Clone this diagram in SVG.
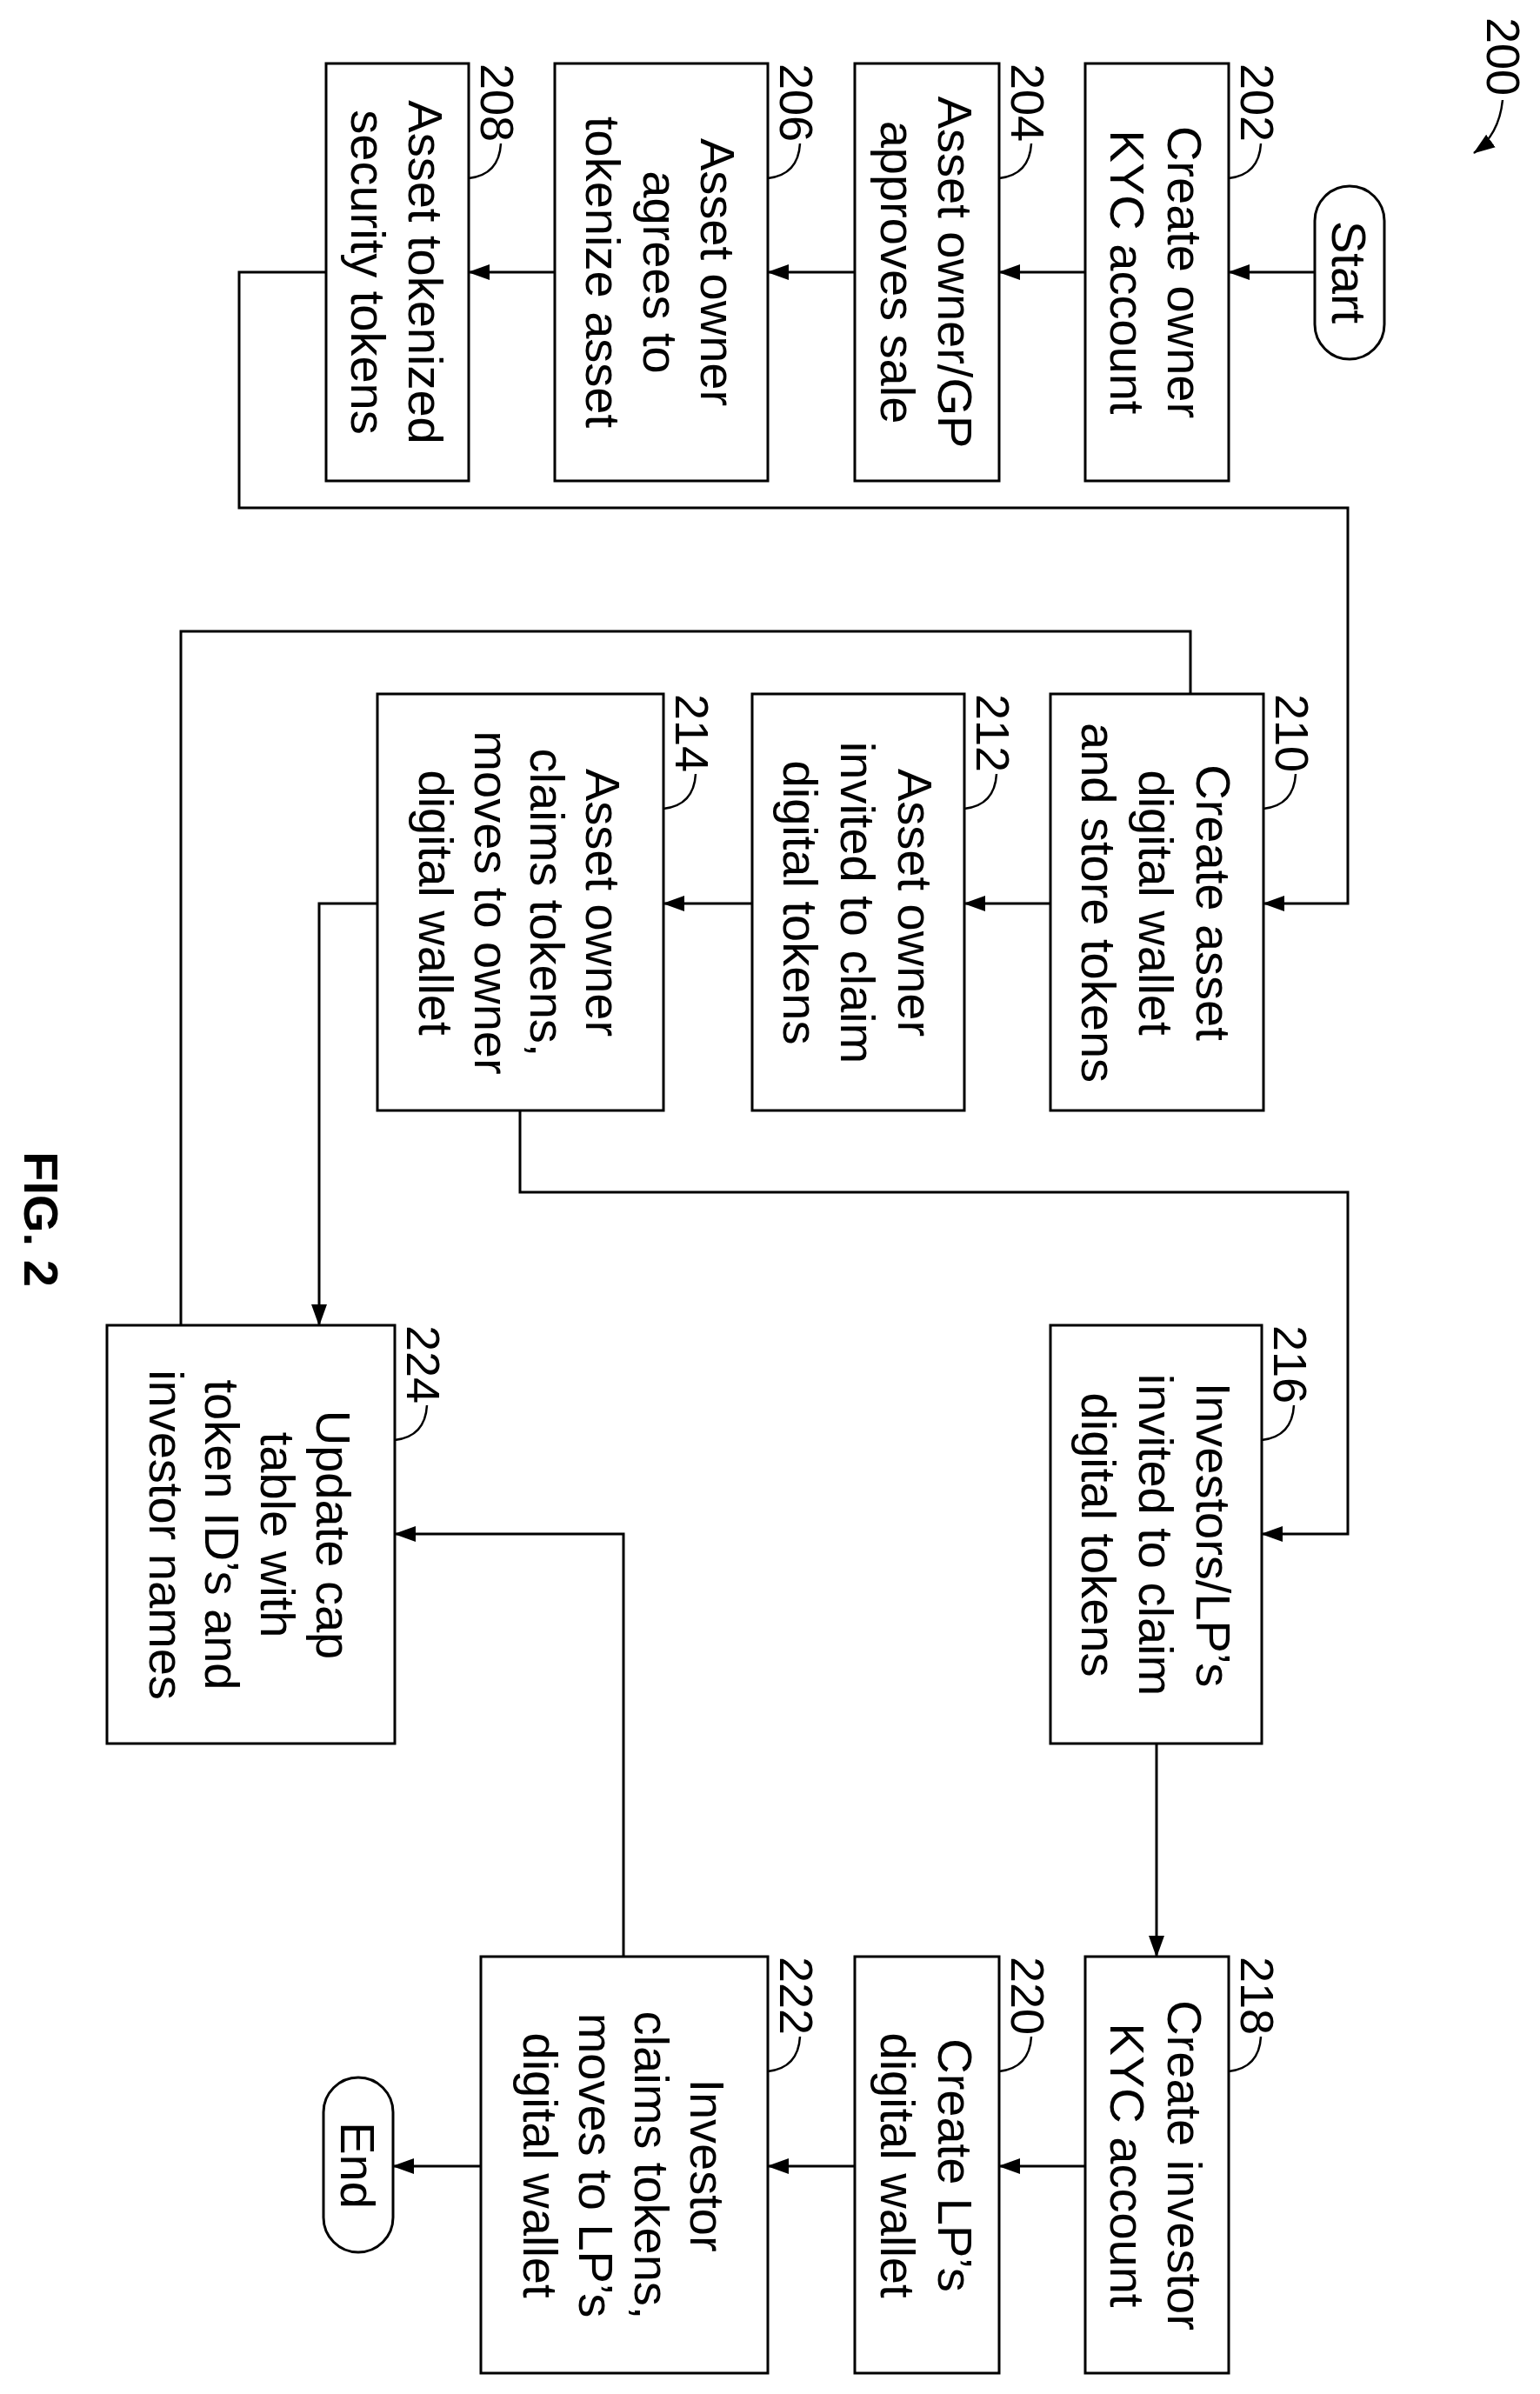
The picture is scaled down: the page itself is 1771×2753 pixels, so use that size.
<svg xmlns="http://www.w3.org/2000/svg" width="1771" height="2753" viewBox="0 0 1771 2753">
<style>
.b{fill:#fff;stroke:#000;stroke-width:3}
.t{font-family:"Liberation Sans",Arial,sans-serif;font-size:56px;text-anchor:middle;fill:#000}
.r{font-family:"Liberation Sans",Arial,sans-serif;font-size:54px;fill:#000}
.c{fill:none;stroke:#000;stroke-width:3}
.l{fill:none;stroke:#000;stroke-width:2.5}
</style>
<defs>
<marker id="a" markerWidth="26" markerHeight="20" refX="24" refY="10" orient="auto" markerUnits="userSpaceOnUse"><path d="M0,1 L25,10 L0,19 Z" fill="#000"/></marker>
</defs>
<g id="connectors">
<path class="c" d="M1512,313 H1413" marker-end="url(#a)"/>
<path class="c" d="M1248,313 H1149" marker-end="url(#a)"/>
<path class="c" d="M983,313 H883" marker-end="url(#a)"/>
<path class="c" d="M638,313 H539" marker-end="url(#a)"/>
<path class="c" d="M375,313 H275 V584 H1550 V1039 H1453" marker-end="url(#a)"/>
<path class="c" d="M1208,1039 H1109" marker-end="url(#a)"/>
<path class="c" d="M865,1039 H763" marker-end="url(#a)"/>
<path class="c" d="M434,1039 H367 V1524" marker-end="url(#a)"/>
<path class="c" d="M1369,798 V726 H208 V1524"/>
<path class="c" d="M598,1277 V1371 H1550 V1764 H1451" marker-end="url(#a)"/>
<path class="c" d="M1330,2005 V2250" marker-end="url(#a)"/>
<path class="c" d="M1248,2491 H1149" marker-end="url(#a)"/>
<path class="c" d="M983,2491 H883" marker-end="url(#a)"/>
<path class="c" d="M553,2491 H452" marker-end="url(#a)"/>
<path class="c" d="M717,2250 V1764 H454" marker-end="url(#a)"/>
</g>
<g id="label200">
<text class="r" transform="translate(1710,20) rotate(90)" x="0" y="0">200</text>
<path class="l" d="M1728,115 Q1724,155 1695,176" marker-end="url(#a)"/>
</g>
<g id="start"><rect class="b" x="1512" y="214" width="80" height="199" rx="40"/><text class="t" transform="translate(1552,313) rotate(90)" y="20">Start</text></g>
<g id="end"><rect class="b" x="372" y="2389" width="80" height="201" rx="40"/><text class="t" transform="translate(412,2490) rotate(90)" y="20">End</text></g>

<g id="n202"><rect class="b" x="1248" y="73" width="165" height="480"/>
<text class="t" transform="translate(1330,313) rotate(90)"><tspan x="0" y="-13">Create owner</tspan><tspan x="0" y="53">KYC account</tspan></text>
<text class="r" transform="translate(1427,73) rotate(90)" y="0">202</text><path class="l" d="M1450,165 Q1448,201 1413,205"/></g>

<g id="n204"><rect class="b" x="983" y="73" width="166" height="480"/>
<text class="t" transform="translate(1066,313) rotate(90)"><tspan x="0" y="-13">Asset owner/GP</tspan><tspan x="0" y="53">approves sale</tspan></text>
<text class="r" transform="translate(1163,73) rotate(90)" y="0">204</text><path class="l" d="M1186,165 Q1184,201 1149,205"/></g>

<g id="n206"><rect class="b" x="638" y="73" width="245" height="480"/>
<text class="t" transform="translate(760,313) rotate(90)"><tspan x="0" y="-46">Asset owner</tspan><tspan x="0" y="20">agrees to</tspan><tspan x="0" y="86">tokenize asset</tspan></text>
<text class="r" transform="translate(897,73) rotate(90)" y="0">206</text><path class="l" d="M920,165 Q918,201 883,205"/></g>

<g id="n208"><rect class="b" x="375" y="73" width="164" height="480"/>
<text class="t" transform="translate(457,313) rotate(90)"><tspan x="0" y="-13">Asset tokenized</tspan><tspan x="0" y="53">security tokens</tspan></text>
<text class="r" transform="translate(553,73) rotate(90)" y="0">208</text><path class="l" d="M576,165 Q574,201 539,205"/></g>

<g id="n210"><rect class="b" x="1208" y="798" width="245" height="479"/>
<text class="t" transform="translate(1330,1038) rotate(90)"><tspan x="0" y="-46">Create asset</tspan><tspan x="0" y="20">digital wallet</tspan><tspan x="0" y="86">and store tokens</tspan></text>
<text class="r" transform="translate(1467,798) rotate(90)" y="0">210</text><path class="l" d="M1490,890 Q1488,926 1453,930"/></g>

<g id="n212"><rect class="b" x="865" y="798" width="244" height="479"/>
<text class="t" transform="translate(987,1038) rotate(90)"><tspan x="0" y="-46">Asset owner</tspan><tspan x="0" y="20">invited to claim</tspan><tspan x="0" y="86">digital tokens</tspan></text>
<text class="r" transform="translate(1123,798) rotate(90)" y="0">212</text><path class="l" d="M1146,890 Q1144,926 1109,930"/></g>

<g id="n214"><rect class="b" x="434" y="798" width="329" height="479"/>
<text class="t" transform="translate(598,1038) rotate(90)"><tspan x="0" y="-76">Asset owner</tspan><tspan x="0" y="-12">claims tokens,</tspan><tspan x="0" y="52">moves to owner</tspan><tspan x="0" y="116">digital wallet</tspan></text>
<text class="r" transform="translate(777,798) rotate(90)" y="0">214</text><path class="l" d="M800,890 Q798,926 763,930"/></g>

<g id="n216"><rect class="b" x="1208" y="1524" width="243" height="481"/>
<text class="t" transform="translate(1330,1765) rotate(90)"><tspan x="0" y="-46">Investors/LP’s</tspan><tspan x="0" y="20">invited to claim</tspan><tspan x="0" y="86">digital tokens</tspan></text>
<text class="r" transform="translate(1465,1524) rotate(90)" y="0">216</text><path class="l" d="M1488,1616 Q1486,1652 1451,1656"/></g>

<g id="n224"><rect class="b" x="123" y="1524" width="331" height="481"/>
<text class="t" transform="translate(288,1765) rotate(90)"><tspan x="0" y="-76">Update cap</tspan><tspan x="0" y="-12">table with</tspan><tspan x="0" y="52">token ID’s and</tspan><tspan x="0" y="116">investor names</tspan></text>
<text class="r" transform="translate(468,1524) rotate(90)" y="0">224</text><path class="l" d="M491,1616 Q489,1652 454,1656"/></g>

<g id="n218"><rect class="b" x="1248" y="2250" width="165" height="479"/>
<text class="t" transform="translate(1330,2490) rotate(90)"><tspan x="0" y="-13">Create investor</tspan><tspan x="0" y="53">KYC account</tspan></text>
<text class="r" transform="translate(1427,2250) rotate(90)" y="0">218</text><path class="l" d="M1450,2342 Q1448,2378 1413,2382"/></g>

<g id="n220"><rect class="b" x="983" y="2250" width="166" height="479"/>
<text class="t" transform="translate(1066,2490) rotate(90)"><tspan x="0" y="-13">Create LP’s</tspan><tspan x="0" y="53">digital wallet</tspan></text>
<text class="r" transform="translate(1163,2250) rotate(90)" y="0">220</text><path class="l" d="M1186,2342 Q1184,2378 1149,2382"/></g>

<g id="n222"><rect class="b" x="553" y="2250" width="330" height="479"/>
<text class="t" transform="translate(718,2490) rotate(90)"><tspan x="0" y="-76">Investor</tspan><tspan x="0" y="-12">claims tokens,</tspan><tspan x="0" y="52">moves to LP’s</tspan><tspan x="0" y="116">digital wallet</tspan></text>
<text class="r" transform="translate(897,2250) rotate(90)" y="0">222</text><path class="l" d="M920,2342 Q918,2378 883,2382"/></g>

<text class="t" style="font-weight:bold" transform="translate(48,1402) rotate(90)" y="20">FIG. 2</text>
</svg>
